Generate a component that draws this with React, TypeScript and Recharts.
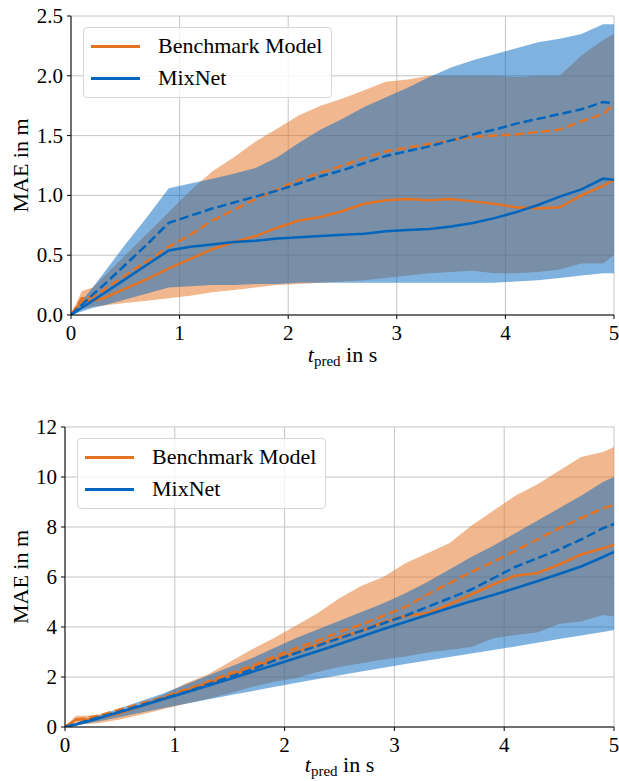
import { ComposedChart, Area, Line, XAxis, YAxis, CartesianGrid, Label } from 'recharts';

const TIME = [0, 0.1, 0.2, 0.3, 0.5, 0.7, 0.9, 1.1, 1.3, 1.5, 1.7, 1.9, 2.1, 2.3, 2.5, 2.7, 2.9, 3.1, 3.3, 3.5, 3.7, 3.9, 4.1, 4.3, 4.5, 4.7, 4.9, 5.0];

// upper plot
const topBenchMean = [0, 0.12, 0.12, 0.14, 0.22, 0.3, 0.39, 0.47, 0.55, 0.61, 0.66, 0.73, 0.79, 0.82, 0.87, 0.93, 0.96, 0.97, 0.96, 0.97, 0.95, 0.93, 0.9, 0.89, 0.9, 1.0, 1.08, 1.13];
const topBenchDash = [0, 0.14, 0.15, 0.21, 0.33, 0.45, 0.57, 0.67, 0.79, 0.88, 0.97, 1.05, 1.13, 1.19, 1.25, 1.31, 1.37, 1.4, 1.43, 1.46, 1.49, 1.5, 1.51, 1.53, 1.55, 1.62, 1.68, 1.76];
const topBenchLow = [0, 0.05, 0.07, 0.08, 0.1, 0.12, 0.14, 0.16, 0.19, 0.21, 0.23, 0.25, 0.26, 0.27, 0.28, 0.29, 0.31, 0.33, 0.35, 0.36, 0.37, 0.35, 0.35, 0.36, 0.38, 0.43, 0.43, 0.5];
const topBenchHigh = [0, 0.2, 0.23, 0.32, 0.5, 0.68, 0.86, 1.04, 1.2, 1.32, 1.45, 1.56, 1.67, 1.75, 1.81, 1.88, 1.95, 1.97, 2.0, 2.0, 2.0, 2.0, 1.99, 2.0, 2.0, 2.17, 2.3, 2.35];
const topMixMean = [0, 0.06, 0.12, 0.18, 0.3, 0.42, 0.54, 0.57, 0.59, 0.61, 0.62, 0.64, 0.65, 0.66, 0.67, 0.68, 0.7, 0.71, 0.72, 0.74, 0.77, 0.81, 0.86, 0.92, 0.99, 1.05, 1.14, 1.13];
const topMixDash = [0, 0.085, 0.17, 0.25, 0.42, 0.59, 0.77, 0.83, 0.89, 0.94, 0.99, 1.04, 1.1, 1.16, 1.21, 1.27, 1.33, 1.37, 1.41, 1.46, 1.51, 1.55, 1.6, 1.64, 1.68, 1.72, 1.78, 1.77];
const topMixLow = [0, 0.03, 0.06, 0.08, 0.13, 0.18, 0.23, 0.24, 0.25, 0.25, 0.26, 0.26, 0.27, 0.27, 0.27, 0.27, 0.27, 0.27, 0.27, 0.27, 0.27, 0.27, 0.28, 0.29, 0.31, 0.33, 0.35, 0.35];
const topMixHigh = [0, 0.12, 0.23, 0.35, 0.59, 0.82, 1.06, 1.1, 1.14, 1.18, 1.23, 1.32, 1.44, 1.55, 1.64, 1.74, 1.82, 1.9, 1.99, 2.07, 2.13, 2.18, 2.23, 2.28, 2.31, 2.35, 2.43, 2.43];

// lower plot
const botBenchMean = [0, 0.3, 0.3, 0.35, 0.55, 0.85, 1.15, 1.45, 1.75, 2.05, 2.35, 2.7, 3.0, 3.3, 3.6, 3.85, 4.2, 4.45, 4.55, 4.9, 5.3, 5.7, 6.05, 6.15, 6.5, 6.9, 7.15, 7.28];
const botBenchDash = [0, 0.3, 0.35, 0.45, 0.7, 0.95, 1.2, 1.5, 1.8, 2.15, 2.45, 2.8, 3.15, 3.45, 3.8, 4.1, 4.45, 4.8, 5.3, 5.75, 6.2, 6.6, 7.05, 7.5, 7.95, 8.35, 8.75, 8.88];
const botBenchLow = [0, 0.1, 0.12, 0.15, 0.3, 0.5, 0.72, 0.93, 1.13, 1.35, 1.6, 1.8, 1.95, 2.2, 2.4, 2.55, 2.7, 2.82, 2.98, 3.08, 3.2, 3.55, 3.68, 3.78, 4.12, 4.22, 4.48, 4.42];
const botBenchHigh = [0, 0.45, 0.45, 0.5, 0.62, 0.92, 1.3, 1.75, 2.1, 2.6, 3.1, 3.55, 4.05, 4.55, 5.15, 5.65, 6.0, 6.55, 6.95, 7.35, 8.05, 8.65, 9.25, 9.7, 10.25, 10.8, 11.0, 11.2];
const botMixMean = [0, 0.1, 0.22, 0.34, 0.6, 0.85, 1.12, 1.38, 1.65, 1.92, 2.2, 2.47, 2.75, 3.03, 3.32, 3.62, 3.92, 4.2, 4.48, 4.76, 5.03, 5.28, 5.55, 5.83, 6.12, 6.42, 6.8, 7.0];
const botMixDash = [0, 0.12, 0.25, 0.37, 0.62, 0.88, 1.15, 1.4, 1.7, 2.0, 2.3, 2.65, 2.95, 3.25, 3.55, 3.85, 4.15, 4.45, 4.8, 5.15, 5.5, 5.95, 6.4, 6.75, 7.1, 7.5, 7.95, 8.12];
const botMixLow = [0, 0.06, 0.14, 0.22, 0.4, 0.58, 0.76, 0.93, 1.1, 1.27, 1.43, 1.6, 1.76, 1.92, 2.07, 2.22, 2.37, 2.52, 2.66, 2.8, 2.94, 3.08, 3.22, 3.37, 3.52, 3.66, 3.8, 3.88];
const botMixHigh = [0, 0.15, 0.3, 0.45, 0.75, 1.05, 1.35, 1.7, 2.05, 2.4, 2.75, 3.15, 3.55, 3.9, 4.25, 4.6, 4.95, 5.35, 5.8, 6.3, 6.8, 7.25, 7.75, 8.25, 8.75, 9.25, 9.8, 10.0];

const X_TICKS = [0, 1, 2, 3, 4, 5];
const TOP_Y_TICKS = [0, 0.5, 1.0, 1.5, 2.0, 2.5];
const BOT_Y_TICKS = [0, 2, 4, 6, 8, 10, 12];

const SERIES = ['Benchmark Model', 'MixNet'];
const ORANGE = '#E37222';
const BLUE = '#0065BD';
const FONT = '"Liberation Serif"';

function build(mB: number[], dB: number[], lB: number[], hB: number[], mM: number[], dM: number[], lM: number[], hM: number[]) {
  return TIME.map((t, i) => ({
    t,
    benchBand: [lB[i], hB[i]],
    mixBand: [lM[i], hM[i]],
    benchMean: mB[i],
    benchDash: dB[i],
    mixMean: mM[i],
    mixDash: dM[i],
  }));
}

const topData = build(topBenchMean, topBenchDash, topBenchLow, topBenchHigh, topMixMean, topMixDash, topMixLow, topMixHigh);
const botData = build(botBenchMean, botBenchDash, botBenchLow, botBenchHigh, botMixMean, botMixDash, botMixLow, botMixHigh);

function Tick(props: any) {
  const { x, y, payload, orientation, fmt } = props;
  const label = fmt ? fmt(payload.value) : String(payload.value);
  if (orientation === 'left') {
    return (
      <text x={x} y={y} textAnchor="end" dominantBaseline="central" fontFamily="Liberation Serif" fontSize={21} fill="#000">
        {label}
      </text>
    );
  }
  return (
    <text x={x} y={y + 14} textAnchor="middle" fontFamily="Liberation Serif" fontSize={21} fill="#000">
      {label}
    </text>
  );
}

function XLabel(props: any) {
  const vb = props.viewBox;
  return (
    <text x={vb.x + vb.width / 2} y={vb.y + props.dy0} textAnchor="middle" fontFamily="Liberation Serif" fontSize={22} fill="#000">
      <tspan fontStyle="italic">t</tspan>
      <tspan fontSize={15} dy={4}>pred</tspan>
      <tspan dy={-4}> in s</tspan>
    </text>
  );
}

function YLabel(props: any) {
  const vb = props.viewBox;
  const cy = vb.y + vb.height / 2;
  return (
    <text x={20} y={cy} transform={`rotate(-90, 20, ${cy})`} textAnchor="middle" dominantBaseline="central" fontFamily="Liberation Serif" fontSize={22} fill="#000">
      MAE in m
    </text>
  );
}

function LegendBox({ left, top }: { left: number; top: number }) {
  const colors = [ORANGE, BLUE];
  return (
    <div
      style={{
        position: 'absolute',
        left,
        top,
        width: 247,
        height: 69,
        border: '1px solid #d6d6d6',
        borderRadius: 4,
        background: 'rgba(255,255,255,0.8)',
        fontFamily: FONT,
        fontSize: 22,
        color: '#000',
      }}
    >
      {SERIES.map((name, i) => (
        <div key={name} style={{ position: 'absolute', left: 7, top: 3 + i * 32, height: 30, display: 'flex', alignItems: 'center' }}>
          <div style={{ width: 49, height: 3, background: colors[i], marginRight: 18 }} />
          <span style={{ whiteSpace: 'nowrap' }}>{name}</span>
        </div>
      ))}
    </div>
  );
}

function Panel({ data, yMax, yTicks, yWidth, height, marginTop, xAxisHeight, labelDy, fmt }: any) {
  return (
    <ComposedChart width={619} height={height} data={data} margin={{ top: marginTop, right: 5, left: 0, bottom: 0 }}>
      <CartesianGrid stroke="#c4c4c4" strokeWidth={1} horizontalValues={yTicks} verticalValues={X_TICKS} />
      <XAxis
        dataKey="t"
        type="number"
        domain={[0, 5]}
        ticks={X_TICKS}
        allowDataOverflow
        height={xAxisHeight}
        tick={(p: any) => <Tick {...p} orientation="bottom" />}
        tickSize={4}
        tickMargin={7}
        stroke="#000"
        tickLine={{ stroke: '#000' }}
      >
        <Label content={(p: any) => <XLabel {...p} dy0={labelDy} />} />
      </XAxis>
      <XAxis xAxisId="top" orientation="top" dataKey="t" type="number" domain={[0, 5]} height={0} tick={false} tickLine={false} stroke="#000" />
      <YAxis
        type="number"
        domain={[0, yMax]}
        ticks={yTicks}
        allowDataOverflow
        width={yWidth}
        tick={(p: any) => <Tick {...p} orientation="left" fmt={fmt} />}
        tickSize={4}
        tickMargin={4}
        stroke="#000"
        tickLine={{ stroke: '#000' }}
      >
        <Label content={(p: any) => <YLabel {...p} />} />
      </YAxis>
      <YAxis yAxisId="right" orientation="right" type="number" domain={[0, yMax]} width={0} tick={false} tickLine={false} stroke="#000" />
      <Area type="linear" dataKey="benchBand" stroke="none" fill={ORANGE} fillOpacity={0.5} isAnimationActive={false} />
      <Area type="linear" dataKey="mixBand" stroke="none" fill={BLUE} fillOpacity={0.5} isAnimationActive={false} />
      <Line type="linear" dataKey="benchMean" stroke={ORANGE} strokeWidth={2.5} dot={false} isAnimationActive={false} />
      <Line type="linear" dataKey="benchDash" stroke={ORANGE} strokeWidth={2.5} strokeDasharray="9.25 4" dot={false} isAnimationActive={false} />
      <Line type="linear" dataKey="mixMean" stroke={BLUE} strokeWidth={2.5} dot={false} isAnimationActive={false} />
      <Line type="linear" dataKey="mixDash" stroke={BLUE} strokeWidth={2.5} strokeDasharray="9.25 4" dot={false} isAnimationActive={false} />
    </ComposedChart>
  );
}

export default function App() {
  return (
    <div style={{ position: 'absolute', left: 0, top: 0, width: 619, height: 781, overflow: 'hidden', background: '#fff' }}>
      <div style={{ position: 'absolute', left: 0, top: 0 }}>
        <Panel data={topData} yMax={2.5} yTicks={TOP_Y_TICKS} yWidth={71} height={370} marginTop={16} xAxisHeight={55} labelDy={47} fmt={(v: number) => v.toFixed(1)} />
        <LegendBox left={83} top={27} />
      </div>
      <div style={{ position: 'absolute', left: 0, top: 400 }}>
        <Panel data={botData} yMax={12} yTicks={BOT_Y_TICKS} yWidth={65} height={381} marginTop={27} xAxisHeight={54} labelDy={45} fmt={(v: number) => String(v)} />
        <LegendBox left={77} top={38} />
      </div>
    </div>
  );
}
